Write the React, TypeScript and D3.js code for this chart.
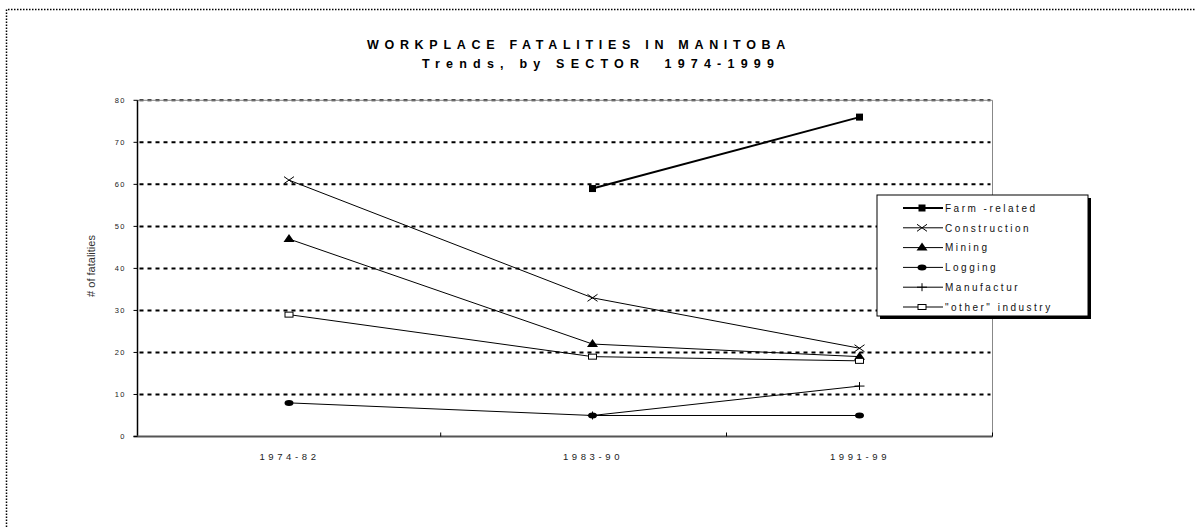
import React from "react";
import * as d3 from "d3";

const categories = ["1974-82", "1983-90", "1991-99"];
const yTicks = [0, 10, 20, 30, 40, 50, 60, 70, 80];
const farm: (number | null)[] = [null, 59, 76];
const construction: (number | null)[] = [61, 33, 21];
const mining: (number | null)[] = [47, 22, 19];
const logging: (number | null)[] = [8, 5, 5];
const manufactur: (number | null)[] = [null, 5, 12];
const otherIndustry: (number | null)[] = [29, 19, 18];
const seriesNames = ["Farm -related", "Construction", "Mining", "Logging", "Manufactur", "\"other\" industry"];

type Marker = "square" | "x" | "triangle" | "circle" | "plus" | "hollowSquare";
const series = [
  { name: seriesNames[0], values: farm, marker: "square" as Marker, width: 2 },
  { name: seriesNames[1], values: construction, marker: "x" as Marker, width: 1 },
  { name: seriesNames[2], values: mining, marker: "triangle" as Marker, width: 1 },
  { name: seriesNames[3], values: logging, marker: "circle" as Marker, width: 1 },
  { name: seriesNames[4], values: manufactur, marker: "plus" as Marker, width: 1 },
  { name: seriesNames[5], values: otherIndustry, marker: "hollowSquare" as Marker, width: 1 },
];

function MarkerShape({ type, x, y }: { type: Marker; x: number; y: number }) {
  switch (type) {
    case "square":
      return <rect x={x - 3.5} y={y - 3.5} width={7} height={7} fill="#000" />;
    case "x":
      return (
        <path d={`M${x - 5},${y - 3.5}L${x + 5},${y + 3.5}M${x - 5},${y + 3.5}L${x + 5},${y - 3.5}`} stroke="#000" strokeWidth={1} />
      );
    case "triangle":
      return <path d={`M${x},${y - 5}L${x + 5.5},${y + 3}L${x - 5.5},${y + 3}Z`} fill="#000" />;
    case "circle":
      return <ellipse cx={x} cy={y} rx={4.5} ry={3} fill="#000" />;
    case "plus":
      return <path d={`M${x - 5},${y}L${x + 5},${y}M${x},${y - 4}L${x},${y + 4}`} stroke="#000" strokeWidth={1} />;
    case "hollowSquare":
      return <rect x={x - 4} y={y - 2.5} width={8} height={5} fill="#fff" stroke="#000" strokeWidth={1} />;
  }
  return null;
}

export default function App() {
  const W = 1196, H = 527;
  const left = 137.5, right = 992.5, top = 100.3, bottom = 436.5;
  const y = d3.scaleLinear().domain([0, 80]).range([bottom, top]);
  const x = d3.scaleLinear()
    .domain([-0.5, 0, 0.5, 1, 1.5, 2, 2.5])
    .range([left, 289, 440.7, 592.5, 726.5, 859.5, right]);

  const line = d3.line<[number, number | null]>()
    .defined((d) => d[1] !== null)
    .x((d) => x(d[0]))
    .y((d) => y(d[1] as number));

  const tickFont = "Liberation Sans, Arial, sans-serif";
  const legX = 877, legY = 195, legW = 211, legH = 121;

  return (
    <svg width={W} height={H} style={{ position: "absolute", left: 0, top: 0, background: "#fff" }}>
      <rect x={0} y={0} width={W} height={H} fill="#fff" />
      <path d={`M6.5,${H}L6.5,9.5L${W},9.5`} fill="none" stroke="#000" strokeWidth={1.5} strokeDasharray="1.5,1.5" />

      <text x={579} y={49} textAnchor="middle" fontFamily={tickFont} fontWeight="bold" fontSize={12.5} letterSpacing={5.7}>
        WORKPLACE FATALITIES IN MANITOBA
      </text>
      <text x={601} y={67.5} textAnchor="middle" fontFamily={tickFont} fontWeight="bold" fontSize={12.5} letterSpacing={6.2} style={{ whiteSpace: "pre" }}>
        {"Trends, by SECTOR  1974-1999"}
      </text>

      {yTicks.filter((t) => t > 0).map((t) => (
        <line key={t} x1={left + 2} x2={right - 2} y1={y(t)} y2={y(t)} stroke="#000" strokeWidth={2} strokeDasharray="4,4" />
      ))}
      <line x1={left} x2={right} y1={top} y2={top} stroke="#888" strokeWidth={1} />
      <line x1={right} x2={right} y1={top} y2={bottom} stroke="#888" strokeWidth={1} />
      <line x1={left} x2={left} y1={top} y2={bottom} stroke="#000" strokeWidth={1.5} />
      <line x1={left - 4} x2={right} y1={bottom} y2={bottom} stroke="#555" strokeWidth={2} />

      {yTicks.map((t) => (
        <g key={t}>
          <line x1={left - 4} x2={left} y1={y(t)} y2={y(t)} stroke="#000" strokeWidth={1} />
          <text x={126} y={y(t) + 2.8} textAnchor="end" fontFamily={tickFont} fontSize={7.5} letterSpacing={1.5} fill="#222">
            {String(t)}
          </text>
        </g>
      ))}
      {[0.5, 1.5, 2.5].map((b) => (
        <line key={b} x1={x(b)} x2={x(b)} y1={bottom - 4} y2={bottom} stroke="#000" strokeWidth={1} />
      ))}
      {categories.map((c, i) => (
        <text key={c} x={x(i) + 0.5} y={459.5} textAnchor="middle" fontFamily={tickFont} fontSize={9.5} letterSpacing={3.6} fill="#222">
          {c}
        </text>
      ))}

      <text transform={`translate(95,266) rotate(-90)`} textAnchor="middle" fontFamily="Liberation Sans Narrow, Arial Narrow, sans-serif" fontSize={11} fill="#333">
        # of fatalities
      </text>

      {series.map((s) => {
        const pts = s.values.map((v, i) => [i, v] as [number, number | null]);
        return (
          <g key={s.name}>
            <path d={line(pts) || ""} fill="none" stroke="#000" strokeWidth={s.width} />
            {pts.filter((p) => p[1] !== null).map((p) => (
              <MarkerShape key={p[0]} type={s.marker} x={x(p[0])} y={y(p[1] as number)} />
            ))}
          </g>
        );
      })}

      <rect x={legX + 3} y={legY + 3} width={legW} height={legH} fill="#000" />
      <rect x={legX} y={legY} width={legW} height={legH} fill="#fff" stroke="#000" strokeWidth={1} />
      {series.map((s, i) => {
        const ly = legY + 13 + i * 19.8;
        return (
          <g key={s.name}>
            <line x1={903} x2={943} y1={ly} y2={ly} stroke="#000" strokeWidth={s.width} />
            <MarkerShape type={s.marker} x={922} y={ly} />
            <text x={945} y={ly + 3.7} fontFamily={tickFont} fontSize={10} letterSpacing={2.5} fill="#111" style={{ whiteSpace: "pre" }}>
              {s.name}
            </text>
          </g>
        );
      })}
    </svg>
  );
}
